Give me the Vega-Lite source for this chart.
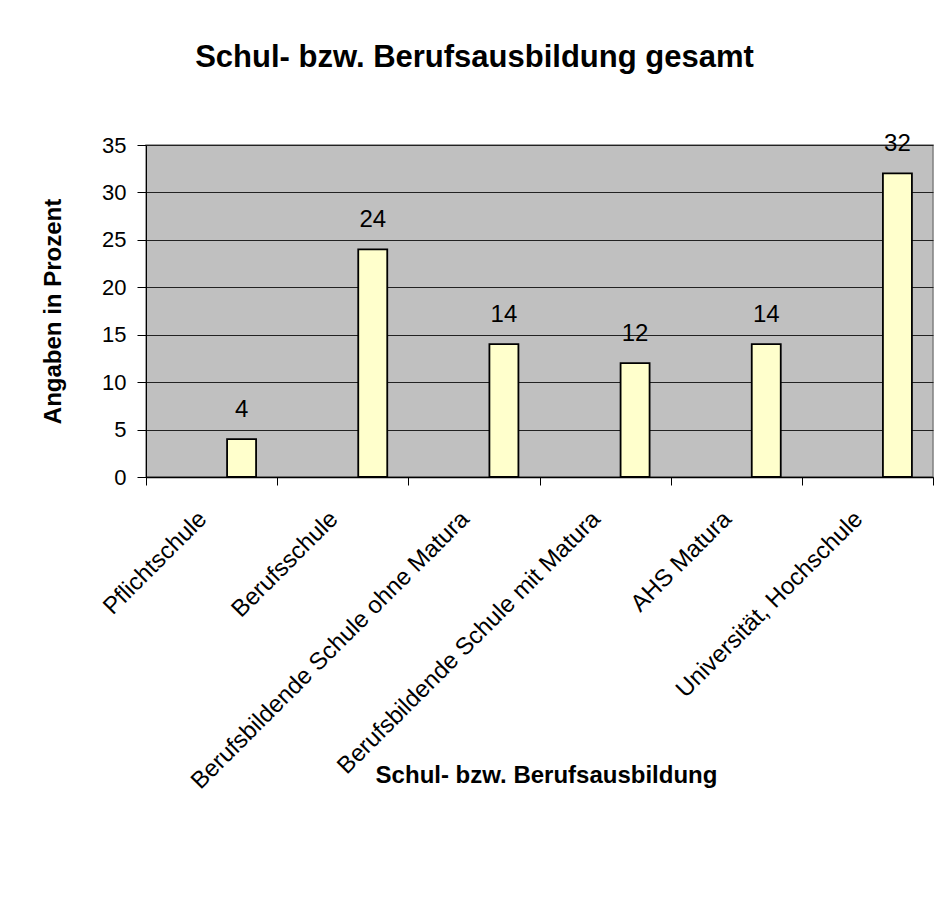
{
  "$schema": "https://vega.github.io/schema/vega-lite/v6.json",
  "width": 787,
  "height": 332,
  "autosize": {"type": "none"},
  "padding": {"left": 146, "top": 145, "right": 5, "bottom": 420},
  "background": "white",
  "title": {
    "text": "Schul- bzw. Berufsausbildung gesamt",
    "font": "Liberation Sans",
    "fontSize": 31,
    "fontWeight": "bold",
    "color": "#000000",
    "anchor": "middle",
    "dx": -65,
    "offset": 58
  },
  "config": {
    "view": {"fill": "#C0C0C0", "stroke": "#808080", "strokeWidth": 1.5},
    "font": "Liberation Sans"
  },
  "data": {
    "values": [
      {"kategorie": "Pflichtschule", "prozent": 4},
      {"kategorie": "Berufsschule", "prozent": 24},
      {"kategorie": "Berufsbildende Schule ohne Matura", "prozent": 14},
      {"kategorie": "Berufsbildende Schule mit Matura", "prozent": 12},
      {"kategorie": "AHS Matura", "prozent": 14},
      {"kategorie": "Universität, Hochschule", "prozent": 32}
    ]
  },
  "encoding": {
    "x": {
      "field": "kategorie",
      "type": "nominal",
      "sort": null,
      "scale": {"paddingInner": 0, "paddingOuter": 0},
      "axis": {
        "title": "Schul- bzw. Berufsausbildung",
        "titleFont": "Liberation Sans",
        "titleFontSize": 24,
        "titleFontWeight": "bold",
        "titleColor": "#000000",
        "titleY": 298,
        "titleX": 400,
        "titleBaseline": "middle",
        "labelAngle": -45,
        "labelAlign": "right",
        "labelBaseline": "middle",
        "labelFont": "Liberation Sans",
        "labelFontSize": 24,
        "labelColor": "#000000",
        "labelPadding": 30,
        "labelOffset": -9,
        "labelLimit": 0,
        "tickBand": "extent",
        "tickSize": 8,
        "tickColor": "#000000",
        "domainColor": "#000000",
        "domainWidth": 1.5,
        "grid": false
      }
    },
    "y": {
      "field": "prozent",
      "type": "quantitative",
      "scale": {"domain": [0, 35], "nice": false},
      "axis": {
        "title": "Angaben in Prozent",
        "titleFont": "Liberation Sans",
        "titleFontSize": 24,
        "titleFontWeight": "bold",
        "titleColor": "#000000",
        "titlePadding": 36,
        "values": [0, 5, 10, 15, 20, 25, 30, 35],
        "labelFont": "Liberation Sans",
        "labelFontSize": 22,
        "labelColor": "#000000",
        "labelPadding": 11,
        "tickSize": 9,
        "tickColor": "#000000",
        "domainColor": "#000000",
        "grid": true,
        "gridColor": "#222222",
        "gridWidth": 1.2
      }
    }
  },
  "layer": [
    {
      "mark": {
        "type": "bar",
        "width": 29,
        "xOffset": 30,
        "fill": "#FFFFCC",
        "stroke": "#000000",
        "strokeWidth": 1.8
      }
    },
    {
      "mark": {
        "type": "text",
        "xOffset": 30,
        "dy": -22,
        "baseline": "alphabetic",
        "font": "Liberation Sans",
        "fontSize": 24,
        "color": "#000000"
      },
      "encoding": {"text": {"field": "prozent", "type": "quantitative"}}
    }
  ]
}
